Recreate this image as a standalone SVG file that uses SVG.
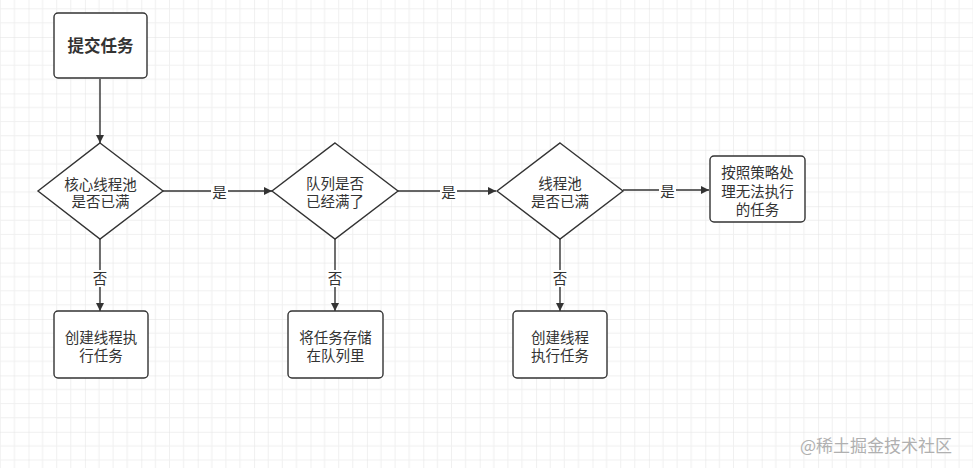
<svg xmlns="http://www.w3.org/2000/svg" width="973" height="468" viewBox="0 0 973 468">
<defs>
<pattern id="grid" x="28.5" y="37" width="56.4" height="56.4" patternUnits="userSpaceOnUse">
<path d="M14.1 0V56.4M28.2 0V56.4M42.3 0V56.4M0 14.1H56.4M0 28.2H56.4M0 42.3H56.4" stroke="#f0f0f0" stroke-width="1" fill="none"/>
<path d="M0 0V56.4M0 0H56.4" stroke="#e2e2e2" stroke-width="1" fill="none"/>
</pattern>
<marker id="arr" viewBox="0 0 10 10" refX="10" refY="5" markerWidth="8" markerHeight="8" markerUnits="userSpaceOnUse" orient="auto">
<path d="M0 0L10 5L0 10Z" fill="#333"/>
</marker>
<style>
.box{fill:#fff;stroke:#333;stroke-width:1.4}
.t{font-family:"Noto Sans CJK SC","Microsoft YaHei",sans-serif;font-size:14.5px;fill:#333;text-anchor:middle}
.b{font-size:16.5px;font-weight:bold}
.ln{stroke:#333;stroke-width:1.4;fill:none;marker-end:url(#arr)}
.lb{fill:#fff}
</style>
</defs>
<rect width="973" height="468" fill="#fff"/>
<rect width="973" height="468" fill="url(#grid)"/>
<g id="connectors">
<path class="ln" d="M100 79V143"/>
<path class="ln" d="M163 191H272"/>
<path class="ln" d="M398 191H496"/>
<path class="ln" d="M623 190H709"/>
<path class="ln" d="M100 239V311"/>
<path class="ln" d="M335 239V311"/>
<path class="ln" d="M560 239V311"/>
<rect class="lb" x="211" y="184" width="17" height="16"/>
<text class="t" x="219.5" y="198">是</text>
<rect class="lb" x="440" y="184" width="17" height="16"/>
<text class="t" x="448.5" y="198">是</text>
<rect class="lb" x="659" y="183" width="17" height="16"/>
<text class="t" x="667.5" y="197">是</text>
<rect class="lb" x="92" y="270" width="16" height="17"/>
<text class="t" x="100" y="283.5">否</text>
<rect class="lb" x="327" y="270" width="16" height="17"/>
<text class="t" x="335" y="283.5">否</text>
<rect class="lb" x="552" y="270" width="16" height="17"/>
<text class="t" x="560" y="283.5">否</text>
</g>
<g id="submit">
<rect class="box" x="54" y="13" width="93" height="65" rx="4"/>
<text class="t b" x="100.5" y="51.5">提交任务</text>
</g>
<g id="core-full">
<path class="box" d="M100 143L163 191L100 239L38 191Z"/>
<text class="t" x="100.5" y="189.5">核心线程池</text>
<text class="t" x="100.5" y="206.5">是否已满</text>
</g>
<g id="queue-full">
<path class="box" d="M335 143L398 191L335 239L272 191Z"/>
<text class="t" x="335" y="188.5">队列是否</text>
<text class="t" x="335" y="206.5">已经满了</text>
</g>
<g id="pool-full">
<path class="box" d="M560 143L623 191L560 239L497 191Z"/>
<text class="t" x="560" y="188.5">线程池</text>
<text class="t" x="560" y="206.5">是否已满</text>
</g>
<g id="reject">
<rect class="box" x="710" y="156" width="95" height="66" rx="4"/>
<text class="t" x="757.5" y="178">按照策略处</text>
<text class="t" x="757.5" y="197">理无法执行</text>
<text class="t" x="757.5" y="215">的任务</text>
</g>
<g id="create-core">
<rect class="box" x="54" y="311" width="94" height="67" rx="4"/>
<text class="t" x="101" y="343">创建线程执</text>
<text class="t" x="101" y="361">行任务</text>
</g>
<g id="enqueue">
<rect class="box" x="288" y="311" width="95" height="67" rx="4"/>
<text class="t" x="335.5" y="343">将任务存储</text>
<text class="t" x="335.5" y="361">在队列里</text>
</g>
<g id="create-thread">
<rect class="box" x="513" y="311" width="94" height="67" rx="4"/>
<text class="t" x="560" y="343">创建线程</text>
<text class="t" x="560" y="361">执行任务</text>
</g>
<text x="876" y="452" font-family="Noto Sans CJK SC,sans-serif" font-size="17" fill="#b0b0b0" text-anchor="middle">@稀土掘金技术社区</text>
</svg>
